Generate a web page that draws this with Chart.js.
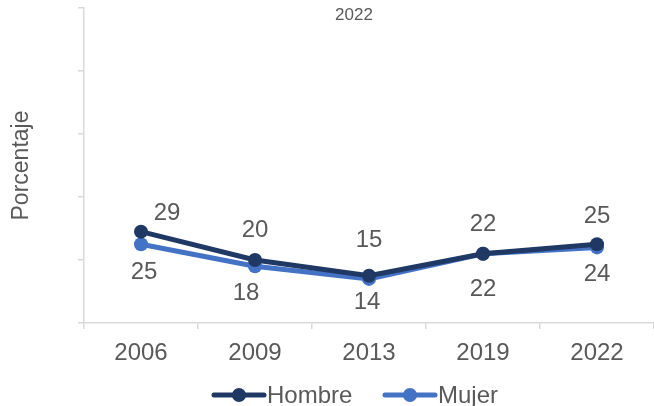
<!DOCTYPE html>
<html>
<head>
<meta charset="utf-8">
<script src="https://cdn.jsdelivr.net/npm/chart.js@4/dist/chart.umd.min.js"></script>
<style>
  html, body { margin: 0; padding: 0; background: #ffffff; }
  #wrap { width: 654px; height: 406px; }
</style>
</head>
<body>
<div id="wrap"><canvas id="grafico" width="654" height="406"></canvas></div>
<script>
// datos
var anios = ['2006', '2009', '2013', '2019', '2022'];
var hombre = [29, 20, 15, 22, 25];
var mujer = [25, 18, 14, 22, 24];
var yTicks = [0, 20, 40, 60, 80, 100];

var GRIS = '#595959';
var FUENTE = '"Liberation Sans", Arial, sans-serif';

// etiquetas de datos: arriba para Hombre, abajo para Mujer
var etiquetas = {
    id: 'etiquetas',
    afterDatasetsDraw: function (chart) {
        var ctx = chart.ctx;
        ctx.save();
        ctx.font = '24px ' + FUENTE;
        ctx.fillStyle = GRIS;
        ctx.textAlign = 'center';
        ctx.textBaseline = 'middle';
        var dxH = [26, 0, 0, 0, 0];
        var dyH = [-18, -30, -35, -29, -28];
        var dxM = [3, -9, -2, 0, 0];
        var dyM = [28, 27, 23, 36, 27];
        chart.getDatasetMeta(0).data.forEach(function (p, i) {
            ctx.fillText(hombre[i], p.x + dxH[i], p.y + dyH[i]);
        });
        chart.getDatasetMeta(1).data.forEach(function (p, i) {
            ctx.fillText(mujer[i], p.x + dxM[i], p.y + dyM[i]);
        });
        ctx.restore();
    }
};

// titulo y leyenda (centrados como en la figura original)
var extras = {
    id: 'extras',
    afterDraw: function (chart) {
        var ctx = chart.ctx;
        ctx.save();
        ctx.font = '17px ' + FUENTE;
        ctx.fillStyle = GRIS;
        ctx.textAlign = 'center';
        ctx.textBaseline = 'middle';
        ctx.fillText('2022', 354, 15);

        var items = [
            { texto: 'Hombre', color: chart.data.datasets[0].borderColor, x: 212 },
            { texto: 'Mujer', color: chart.data.datasets[1].borderColor, x: 383 }
        ];
        var y = 395;
        items.forEach(function (it) {
            ctx.strokeStyle = it.color;
            ctx.lineWidth = 5;
            ctx.lineCap = 'round';
            ctx.beginPath();
            ctx.moveTo(it.x + 2, y);
            ctx.lineTo(it.x + 52, y);
            ctx.stroke();
            ctx.fillStyle = it.color;
            ctx.beginPath();
            ctx.arc(it.x + 27, y, 7, 0, Math.PI * 2);
            ctx.fill();
            ctx.font = '24px ' + FUENTE;
            ctx.fillStyle = GRIS;
            ctx.textAlign = 'left';
            ctx.fillText(it.texto, it.x + 55, y + 1);
        });
        ctx.restore();
    }
};

var ctx = document.getElementById('grafico').getContext('2d');
var grafico = new Chart(ctx, {
    type: 'line',
    data: {
        labels: anios,
        datasets: [{
            label: 'Hombre',
            data: hombre,
            borderColor: '#203864',
            backgroundColor: '#203864',
            borderWidth: 5,
            pointRadius: 7,
            pointHoverRadius: 7,
            pointBorderWidth: 0,
            tension: 0
        }, {
            label: 'Mujer',
            data: mujer,
            borderColor: '#4472C4',
            backgroundColor: '#4472C4',
            borderWidth: 5,
            pointRadius: 7,
            pointHoverRadius: 7,
            pointBorderWidth: 0,
            tension: 0
        }]
    },
    options: {
        responsive: false,
        animation: false,
        layout: { autoPadding: false, padding: { top: 8, right: 0, bottom: 0, left: 0 } },
        plugins: {
            legend: { display: false },
            title: { display: false },
            tooltip: { enabled: false }
        },
        scales: {
            x: {
                offset: true,
                grid: {
                    offset: true,
                    drawOnChartArea: false,
                    drawTicks: true,
                    tickLength: 6,
                    color: '#d9d9d9',
                    lineWidth: 1.5
                },
                border: { color: '#d9d9d9', width: 1.5 },
                ticks: {
                    color: GRIS,
                    font: { family: FUENTE, size: 24 },
                    padding: 10,
                    maxRotation: 0
                },
                afterFit: function (scale) { scale.height = 83; }
            },
            y: {
                min: 0,
                max: 100,
                afterBuildTicks: function (scale) {
                    scale.ticks = yTicks.map(function (v) { return { value: v }; });
                },
                grid: {
                    drawOnChartArea: false,
                    drawTicks: true,
                    tickLength: 6,
                    color: '#d9d9d9',
                    lineWidth: 1.5
                },
                border: { color: '#d9d9d9', width: 1.5 },
                ticks: {
                    display: true,
                    callback: function () { return ''; },
                    font: { size: 1 },
                    padding: 0
                },
                title: {
                    display: true,
                    text: 'Porcentaje',
                    color: GRIS,
                    font: { family: FUENTE, size: 23 },
                    padding: { top: 8, bottom: 0 }
                },
                afterFit: function (scale) { scale.width = 84; }
            }
        }
    },
    plugins: [etiquetas, extras]
});
</script>
</body>
</html>
